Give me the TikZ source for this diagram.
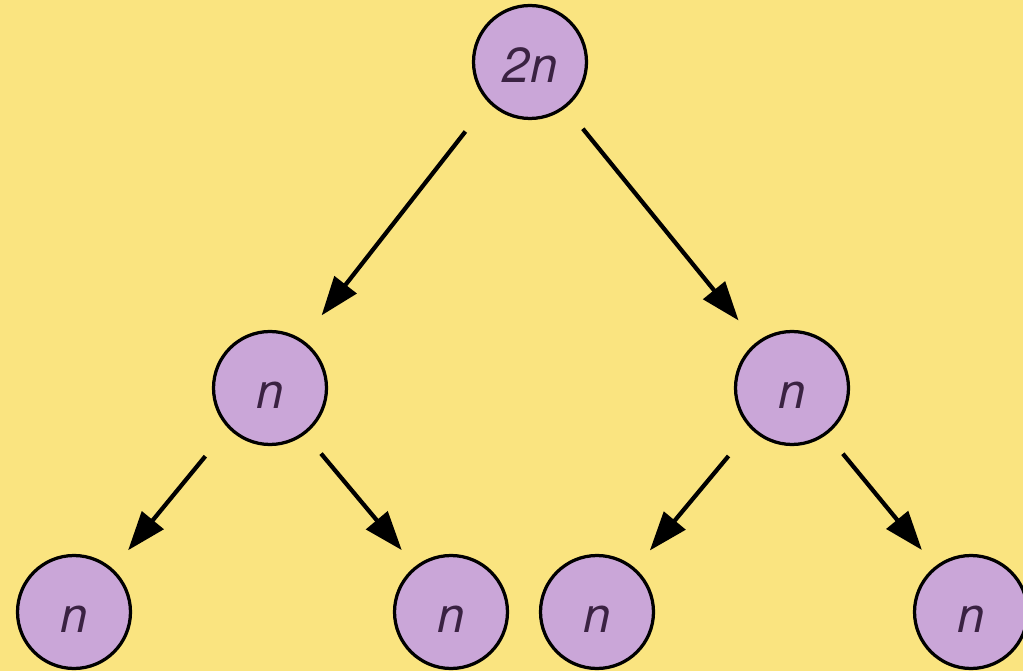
\documentclass[tikz,border=0pt]{standalone}
\usepackage{fontspec}
\setmainfont{TeX Gyre Heros}
\usetikzlibrary{arrows.meta}
\definecolor{bgyellow}{RGB}{250,228,128}
\definecolor{nodepurple}{RGB}{202,166,216}
\definecolor{txtpurple}{RGB}{58,34,66}
\begin{document}
\begin{tikzpicture}[x=0.02cm,y=-0.02cm,
  treenode/.style={circle,draw=black,line width=0.065cm,fill=nodepurple,
    minimum size=2.26cm,inner sep=0pt,text=txtpurple,
    font=\fontsize{28}{30}\selectfont\itshape,text height=23pt,text depth=0pt},
  treearrow/.style={line width=0.085cm,-{Triangle[length=0.78cm,width=0.55cm]}}]
\fill[bgyellow] (0,0) rectangle (1023,671);
\useasboundingbox (0,0) rectangle (1023,671);
\node[treenode] (top) at (530,62) {2n};
\node[treenode] (ml) at (270,388) {n};
\node[treenode] (mr) at (792,388) {n};
\node[treenode] (b1) at (74,612) {n};
\node[treenode] (b2) at (451,612) {n};
\node[treenode] (b3) at (597,612) {n};
\node[treenode] (b4) at (971,612) {n};
\draw[treearrow,shorten <=0.74cm,shorten >=0.62cm] (top.224.6) -- (ml.56.3);
\draw[treearrow,shorten <=0.54cm,shorten >=0.56cm] (top.308.2) -- (mr.128.6);
\draw[treearrow,shorten <=0.72cm,shorten >=0.48cm] (ml.224.6) -- (b1.48.4);
\draw[treearrow,shorten <=0.5cm,shorten >=0.42cm] (ml.307.6) -- (b2.128.9);
\draw[treearrow,shorten <=0.7cm,shorten >=0.46cm] (mr.225) -- (b3.49.5);
\draw[treearrow,shorten <=0.5cm,shorten >=0.42cm] (mr.307.6) -- (b4.128.9);
\end{tikzpicture}
\end{document}
